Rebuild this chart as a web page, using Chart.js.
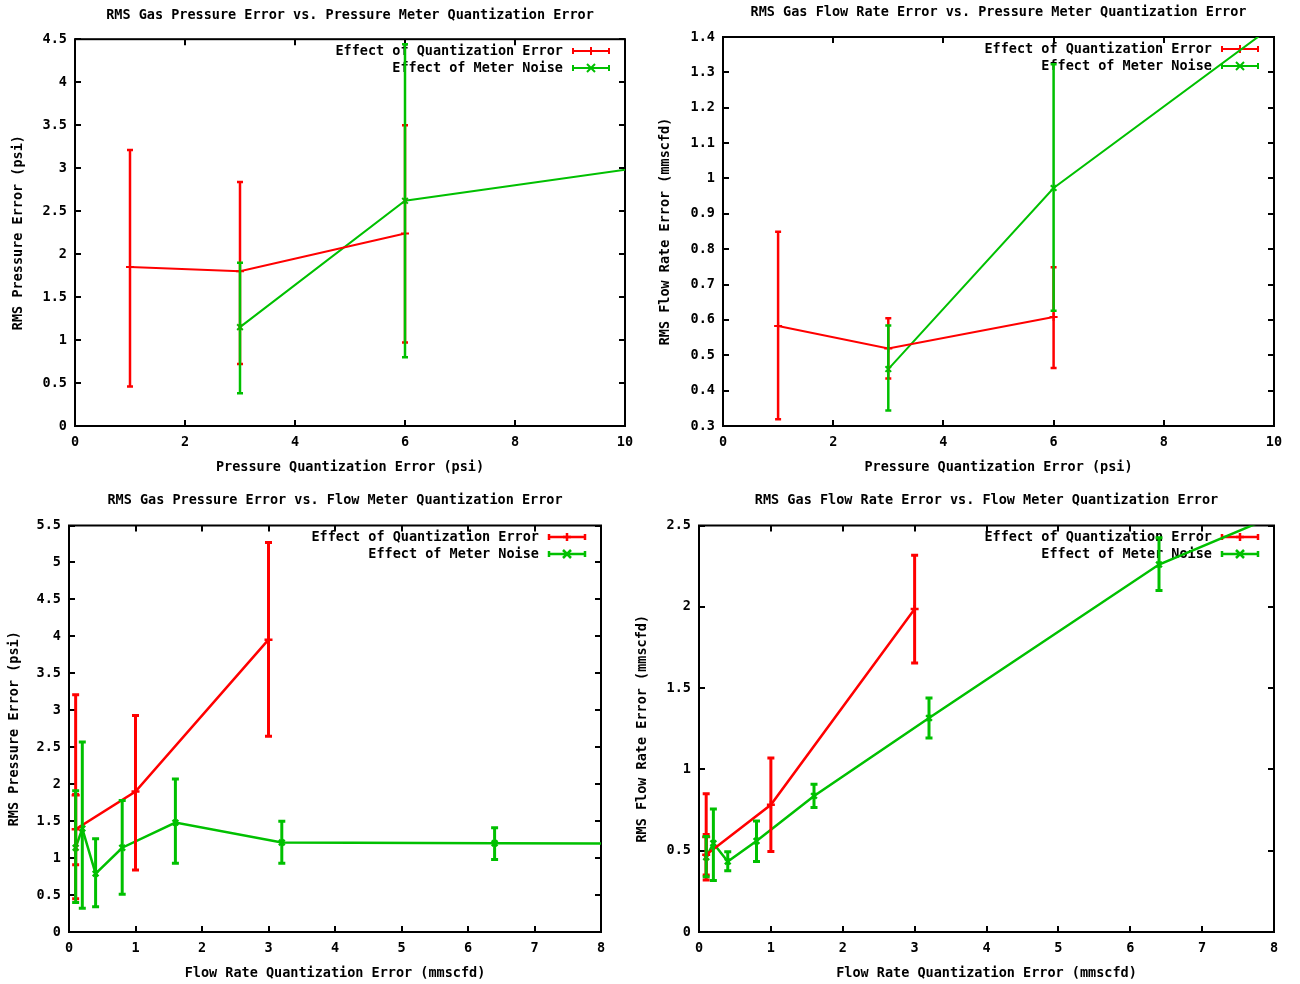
<!DOCTYPE html>
<html>
<head>
<meta charset="utf-8">
<script src="https://cdn.jsdelivr.net/npm/chart.js@4"></script>
<style>
  body { margin: 0; background: #fff; width: 1300px; height: 984px; position: relative; overflow: hidden; }
  .box { position: absolute; }
</style>
</head>
<body>
<div class="box" style="left:0;top:0"><canvas id="c1" width="650" height="490"></canvas></div>
<div class="box" style="left:650px;top:0"><canvas id="c2" width="650" height="490"></canvas></div>
<div class="box" style="left:0;top:490px"><canvas id="c3" width="625" height="494"></canvas></div>
<div class="box" style="left:625px;top:490px"><canvas id="c4" width="675" height="494"></canvas></div>
<script>
// top left: pressure error vs pressure meter quantization
const c1QuantX = [1, 3, 6];
const c1QuantY = [1.85, 1.80, 2.24];
const c1QuantLo = [0.46, 0.72, 0.97];
const c1QuantHi = [3.21, 2.84, 3.50];
const c1NoiseX = [3, 6, 12];
const c1NoiseY = [1.15, 2.62, 3.16];
const c1NoiseLo = [0.38, 0.80, null];
const c1NoiseHi = [1.90, 4.44, null];

// top right: flow rate error vs pressure meter quantization
const c2QuantX = [1, 3, 6];
const c2QuantY = [0.583, 0.519, 0.608];
const c2QuantLo = [0.319, 0.434, 0.464];
const c2QuantHi = [0.849, 0.605, 0.749];
const c2NoiseX = [3, 6, 12];
const c2NoiseY = [0.461, 0.973, 1.664];
const c2NoiseLo = [0.344, 0.626, null];
const c2NoiseHi = [0.584, 1.323, null];

// bottom left: pressure error vs flow meter quantization
const c3QuantX = [0.1, 0.1, 1, 3];
const c3QuantY = [1.85, 1.39, 1.90, 3.955];
const c3QuantLo = [0.45, 0.91, 0.84, 2.65];
const c3QuantHi = [3.21, 1.86, 2.93, 5.27];
const c3NoiseX = [0.1, 0.2, 0.4, 0.8, 1.6, 3.2, 6.4, 12.8];
const c3NoiseY = [1.14, 1.40, 0.79, 1.14, 1.48, 1.21, 1.20, 1.19];
const c3NoiseLo = [0.40, 0.32, 0.34, 0.51, 0.93, 0.93, 0.98, null];
const c3NoiseHi = [1.91, 2.57, 1.26, 1.78, 2.07, 1.50, 1.41, null];

// bottom right: flow rate error vs flow meter quantization
const c4QuantX = [0.1, 0.1, 1, 3];
const c4QuantY = [0.585, 0.475, 0.782, 1.987];
const c4QuantLo = [0.32, 0.35, 0.495, 1.654];
const c4QuantHi = [0.85, 0.60, 1.07, 2.317];
const c4NoiseX = [0.1, 0.2, 0.4, 0.8, 1.6, 3.2, 6.4, 12.8];
const c4NoiseY = [0.46, 0.546, 0.433, 0.56, 0.837, 1.316, 2.26, 3.45];
const c4NoiseLo = [0.34, 0.316, 0.376, 0.433, 0.765, 1.193, 2.10, null];
const c4NoiseHi = [0.587, 0.757, 0.494, 0.683, 0.909, 1.439, 2.424, null];

const quantLabel = 'Effect of Quantization Error';
const noiseLabel = 'Effect of Meter Noise';

const RED = '#ff0000';
const GREEN = '#00c000';
const MONO = "'DejaVu Sans Mono', 'Liberation Mono', monospace";
const FONT = { family: MONO, size: 13.5, weight: 'bold' };

// gnuplot prints 1 not 1.0
const tickText = v => String(parseFloat(Number(v).toFixed(2)));

function toPoints(xs, ys) {
    return xs.map((x, i) => ({ x: x, y: ys[i] }));
}

function series(label, color, style, xs, ys, lo, hi, lw, cap) {
    return {
        label: label,
        data: toPoints(xs, ys),
        errLo: lo,
        errHi: hi,
        errCap: cap,
        markStyle: style,
        borderColor: color,
        backgroundColor: color,
        borderWidth: lw,
        showLine: true,
        tension: 0,
        pointStyle: style,
        pointRadius: 4,
        pointHoverRadius: 4,
        pointBorderWidth: lw,
        clip: 0
    };
}

function drawMark(ctx, style, x, y, r) {
    ctx.beginPath();
    if (style === 'cross') {
        ctx.moveTo(x - r, y); ctx.lineTo(x + r, y);
        ctx.moveTo(x, y - r); ctx.lineTo(x, y + r);
    } else {
        ctx.moveTo(x - r, y - r); ctx.lineTo(x + r, y + r);
        ctx.moveTo(x - r, y + r); ctx.lineTo(x + r, y - r);
    }
    ctx.stroke();
}

// gnuplot style frame, inward ticks, key and error bars
const gnuplotLook = {
    id: 'gnuplotLook',
    beforeDatasetsDraw(chart) {
        const ctx = chart.ctx;
        const a = chart.chartArea;
        const xs = chart.scales.x, ys = chart.scales.y;
        ctx.save();
        ctx.strokeStyle = '#000';
        ctx.lineWidth = 2;
        ctx.beginPath();
        xs.ticks.forEach(t => {
            const px = Math.round(xs.getPixelForValue(t.value));
            ctx.moveTo(px, a.bottom); ctx.lineTo(px, a.bottom - 6);
            ctx.moveTo(px, a.top); ctx.lineTo(px, a.top + 6);
        });
        ys.ticks.forEach(t => {
            const py = Math.round(ys.getPixelForValue(t.value));
            ctx.moveTo(a.left, py); ctx.lineTo(a.left + 6, py);
            ctx.moveTo(a.right, py); ctx.lineTo(a.right - 6, py);
        });
        ctx.stroke();
        ctx.strokeRect(a.left, a.top, a.right - a.left, a.bottom - a.top);

        ctx.font = 'bold 13.5px ' + MONO;
        ctx.textAlign = 'right';
        ctx.textBaseline = 'middle';
        chart.data.datasets.forEach((ds, i) => {
            const y = Math.round(a.top + 11.5 + i * 17);
            ctx.fillStyle = '#000';
            ctx.fillText(ds.label, a.right - 62, y);
            const x0 = a.right - 52, x1 = a.right - 16;
            ctx.strokeStyle = ds.borderColor;
            ctx.lineWidth = ds.borderWidth;
            ctx.beginPath();
            ctx.moveTo(x0, y); ctx.lineTo(x1, y);
            ctx.moveTo(x0, y - 3); ctx.lineTo(x0, y + 3);
            ctx.moveTo(x1, y - 3); ctx.lineTo(x1, y + 3);
            ctx.stroke();
            drawMark(ctx, ds.markStyle, (x0 + x1) / 2, y, 4);
        });
        ctx.restore();
    },
    afterDatasetsDraw(chart) {
        const ctx = chart.ctx;
        const a = chart.chartArea;
        const xs = chart.scales.x, ys = chart.scales.y;
        ctx.save();
        ctx.beginPath();
        ctx.rect(a.left, a.top, a.right - a.left, a.bottom - a.top);
        ctx.clip();
        chart.data.datasets.forEach(ds => {
            ctx.strokeStyle = ds.borderColor;
            ctx.lineWidth = ds.borderWidth + 0.5;
            ds.data.forEach((p, j) => {
                if (ds.errLo[j] == null) return;
                const px = xs.getPixelForValue(p.x);
                const lo = ys.getPixelForValue(ds.errLo[j]);
                const hi = ys.getPixelForValue(ds.errHi[j]);
                const c = ds.errCap;
                ctx.beginPath();
                ctx.moveTo(px, lo); ctx.lineTo(px, hi);
                ctx.moveTo(px - c, lo); ctx.lineTo(px + c, lo);
                ctx.moveTo(px - c, hi); ctx.lineTo(px + c, hi);
                ctx.stroke();
            });
        });
        ctx.restore();
    }
};

function makeChart(id, text, range, box, datasets) {
    new Chart(document.getElementById(id), {
        type: 'scatter',
        data: { datasets: datasets },
        options: {
            responsive: false,
            animation: false,
            devicePixelRatio: 1,
            events: [],
            layout: { padding: { left: 0, right: box.padRight, top: 0, bottom: 0 } },
            plugins: {
                legend: { display: false },
                tooltip: { enabled: false },
                title: {
                    display: true,
                    text: text.title,
                    fullSize: false,
                    color: '#000',
                    font: FONT,
                    padding: { top: box.titleTop, bottom: box.titleBottom }
                }
            },
            scales: {
                x: {
                    type: 'linear',
                    min: range.xMin, max: range.xMax,
                    ticks: { stepSize: range.xStep, autoSkip: false, maxRotation: 0, padding: 8, color: '#000', font: FONT, callback: tickText },
                    grid: { display: false, drawTicks: false },
                    border: { display: false },
                    title: { display: true, text: text.x, color: '#000', font: FONT, padding: { top: 0, bottom: box.xTitlePad } },
                    afterFit: s => { s.height = box.xHeight; }
                },
                y: {
                    type: 'linear',
                    min: range.yMin, max: range.yMax,
                    ticks: { stepSize: range.yStep, autoSkip: false, padding: 8, color: '#000', font: FONT, callback: tickText },
                    grid: { display: false, drawTicks: false },
                    border: { display: false },
                    title: { display: true, text: text.y, color: '#000', font: FONT, padding: { top: box.yTitlePad, bottom: 0 } },
                    afterFit: s => { s.width = box.yWidth; }
                }
            }
        },
        plugins: [gnuplotLook]
    });
}

makeChart('c1',
    { title: 'RMS Gas Pressure Error vs. Pressure Meter Quantization Error', x: 'Pressure Quantization Error (psi)', y: 'RMS Pressure Error (psi)' },
    { xMin: 0, xMax: 10, xStep: 2, yMin: 0, yMax: 4.5, yStep: 0.5 },
    { yWidth: 75, xHeight: 64, padRight: 25, titleTop: 7, titleBottom: 16, yTitlePad: 10.5, xTitlePad: 14.5 },
    [series(quantLabel, RED, 'cross', c1QuantX, c1QuantY, c1QuantLo, c1QuantHi, 2, 3),
     series(noiseLabel, GREEN, 'crossRot', c1NoiseX, c1NoiseY, c1NoiseLo, c1NoiseHi, 2, 3)]);

makeChart('c2',
    { title: 'RMS Gas Flow Rate Error vs. Pressure Meter Quantization Error', x: 'Pressure Quantization Error (psi)', y: 'RMS Flow Rate Error (mmscfd)' },
    { xMin: 0, xMax: 10, xStep: 2, yMin: 0.3, yMax: 1.4, yStep: 0.1 },
    { yWidth: 73, xHeight: 64, padRight: 26, titleTop: 4, titleBottom: 16.8, yTitlePad: 7.5, xTitlePad: 14.5 },
    [series(quantLabel, RED, 'cross', c2QuantX, c2QuantY, c2QuantLo, c2QuantHi, 2, 3),
     series(noiseLabel, GREEN, 'crossRot', c2NoiseX, c2NoiseY, c2NoiseLo, c2NoiseHi, 2, 3)]);

makeChart('c3',
    { title: 'RMS Gas Pressure Error vs. Flow Meter Quantization Error', x: 'Flow Rate Quantization Error (mmscfd)', y: 'RMS Pressure Error (psi)' },
    { xMin: 0, xMax: 8, xStep: 1, yMin: 0, yMax: 5.5, yStep: 0.5 },
    { yWidth: 69, xHeight: 52, padRight: 24, titleTop: 2, titleBottom: 17.3, yTitlePad: 6.5, xTitlePad: 2.6 },
    [series(quantLabel, RED, 'cross', c3QuantX, c3QuantY, c3QuantLo, c3QuantHi, 2.5, 3.5),
     series(noiseLabel, GREEN, 'crossRot', c3NoiseX, c3NoiseY, c3NoiseLo, c3NoiseHi, 2.5, 3.5)]);

makeChart('c4',
    { title: 'RMS Gas Flow Rate Error vs. Flow Meter Quantization Error', x: 'Flow Rate Quantization Error (mmscfd)', y: 'RMS Flow Rate Error (mmscfd)' },
    { xMin: 0, xMax: 8, xStep: 1, yMin: 0, yMax: 2.5, yStep: 0.5 },
    { yWidth: 74, xHeight: 52, padRight: 26, titleTop: 2, titleBottom: 17.3, yTitlePad: 9.5, xTitlePad: 2.6 },
    [series(quantLabel, RED, 'cross', c4QuantX, c4QuantY, c4QuantLo, c4QuantHi, 2.5, 3.5),
     series(noiseLabel, GREEN, 'crossRot', c4NoiseX, c4NoiseY, c4NoiseLo, c4NoiseHi, 2.5, 3.5)]);
</script>
</body>
</html>
